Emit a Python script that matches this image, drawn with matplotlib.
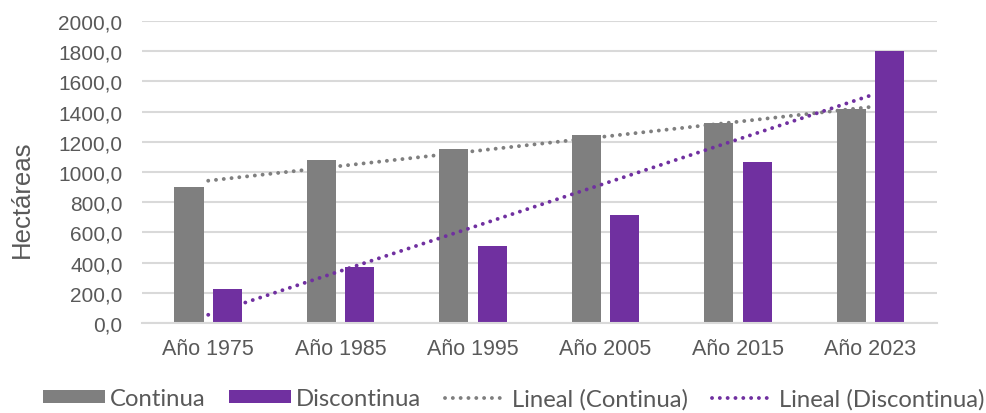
import matplotlib
matplotlib.use("Agg")
import matplotlib.pyplot as plt
import numpy as np

categories = ["Año 1975", "Año 1985", "Año 1995", "Año 2005", "Año 2015", "Año 2023"]
continua = [900, 1080, 1152, 1247, 1322, 1419]
discontinua = [225, 371, 510, 715, 1066, 1799]
yticks = [0, 200, 400, 600, 800, 1000, 1200, 1400, 1600, 1800, 2000]

GRAY = "#7f7f7f"
PURPLE = "#7030a0"
TXT = "#595959"

fig = plt.figure(figsize=(9.86, 4.14), dpi=100)
ax = fig.add_axes([0.144, 0.217, 0.806, 0.730])

x = np.arange(len(categories))
w = 0.22
off = 0.145
b1 = ax.bar(x - off, continua, w, color=GRAY, zorder=2, label="Continua")
b2 = ax.bar(x + off, discontinua, w, color=PURPLE, zorder=2, label="Discontinua")

# linear trendlines (least squares, as Excel)
xs = np.linspace(0, len(categories) - 1, 100)
p1 = np.polyfit(x, continua, 1)
p2 = np.polyfit(x, discontinua, 1)
dots = (0, (0.01, 2.0))
l1, = ax.plot(xs, np.polyval(p1, xs), color=GRAY, lw=2.8, linestyle=dots,
              dash_capstyle="round", zorder=3, label="Lineal (Continua)")
l2, = ax.plot(xs, np.polyval(p2, xs), color=PURPLE, lw=2.8, linestyle=dots,
              dash_capstyle="round", zorder=3, label="Lineal (Discontinua)")

ax.set_xlim(-0.5, len(categories) - 0.5)
ax.set_ylim(0, 2000)
ax.set_yticks(yticks)
ax.set_yticklabels([f"{v:.1f}".replace(".", ",") for v in yticks],
                   fontsize=15, color=TXT, family="Liberation Sans")
ax.set_xticks(x)
ax.set_xticklabels(categories, fontsize=15.5, color=TXT, family="Liberation Sans")
ax.tick_params(axis="y", length=0, pad=14)
ax.tick_params(axis="x", length=0, pad=11)
ax.yaxis.grid(True, color="#d9d9d9", lw=1.5, zorder=0)
ax.set_axisbelow(True)
for s in ["top", "right", "left"]:
    ax.spines[s].set_visible(False)
ax.spines["bottom"].set_color("#d9d9d9")
ax.spines["bottom"].set_linewidth(1.5)

fig.text(0.022, 0.519, "Hectáreas", rotation=90, ha="center", va="center",
         fontsize=18.5, color=TXT, family="Liberation Sans")

leg = fig.legend(handles=[b1, b2, l1, l2], loc="center", bbox_to_anchor=(0.521, 0.035),
                 ncol=4, frameon=False, handlelength=2.6, handleheight=0.45,
                 columnspacing=1.0, handletextpad=0.2, borderpad=0.1,
                 prop={"family": "Lato", "size": 17.2})
for t in leg.get_texts():
    t.set_color(TXT)

fig.savefig("out.png", dpi=100)
